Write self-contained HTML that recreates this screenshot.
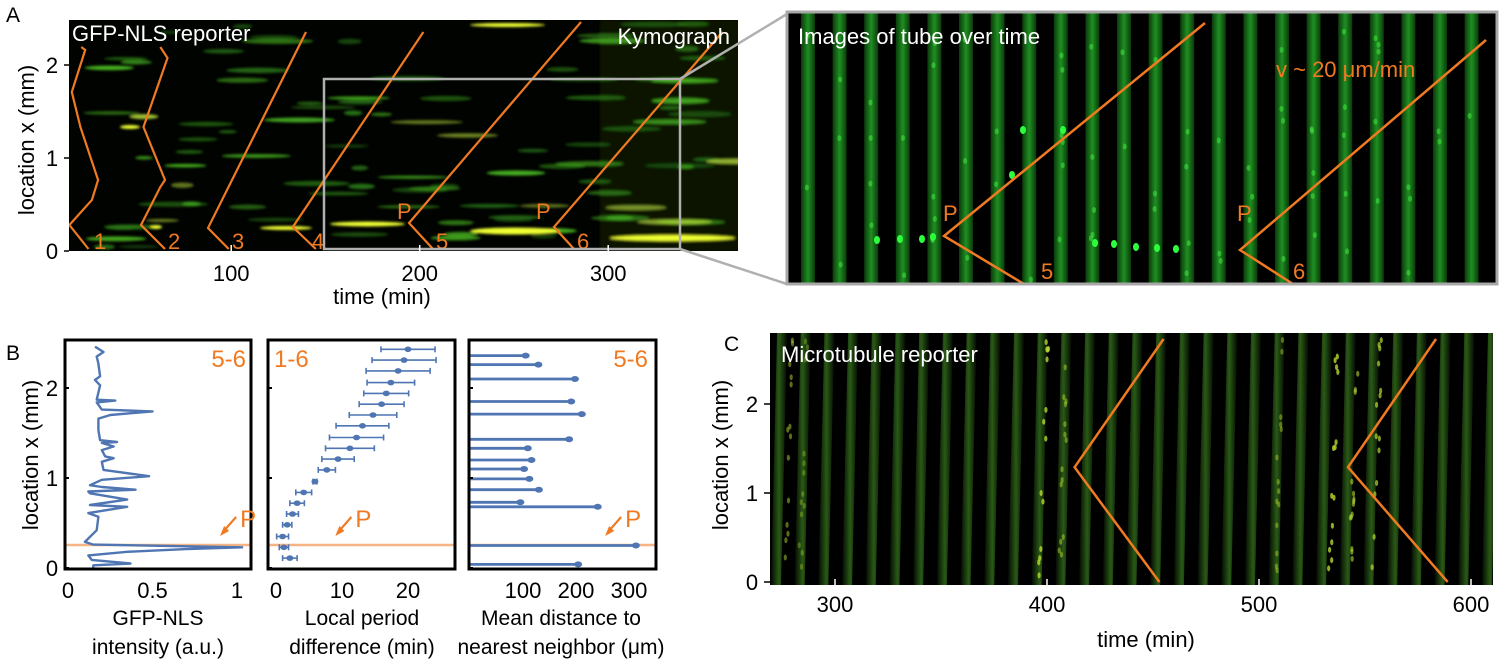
<!DOCTYPE html>
<html><head><meta charset="utf-8"><style>
html,body{margin:0;padding:0;background:#fff;}
svg{display:block;font-family:"Liberation Sans",Arial,sans-serif;}
</style></head><body>
<svg id="fig" width="1500" height="663" viewBox="0 0 1500 663" xmlns="http://www.w3.org/2000/svg">
<defs>
<filter id="blur1" x="-10%" y="-50%" width="120%" height="200%"><feGaussianBlur stdDeviation="1.2"/></filter>
<linearGradient id="stripeA" x1="0" x2="1" y1="0" y2="0">
<stop offset="0" stop-color="#0a3a0a"/><stop offset="0.5" stop-color="#1f8f22"/><stop offset="1" stop-color="#0a3a0a"/></linearGradient>
<linearGradient id="stripeC" x1="0" x2="1" y1="0" y2="0">
<stop offset="0" stop-color="#030a02"/><stop offset="0.5" stop-color="#2a5a16"/><stop offset="1" stop-color="#030a02"/></linearGradient>
<clipPath id="clipK"><rect x="69" y="20" width="669" height="231"/></clipPath>
<clipPath id="clipI"><rect x="787" y="12" width="710" height="272"/></clipPath>
<clipPath id="clipC"><rect x="770" y="333" width="723" height="252"/></clipPath>
</defs>

<!-- Panel A -->
<text x="6" y="22" font-size="21">A</text>
<g id="kymo">
<rect x="69" y="20" width="669" height="231" fill="#010301"/>
<g id="kymoStreaks" clip-path="url(#clipK)" filter="url(#blur1)"></g>
<g clip-path="url(#clipK)" fill="none" stroke="#f07a22" stroke-width="2.2">
<polyline points="88.5,249 69.4,225 91.9,200 98.1,180 80.4,127 71.8,92 85.2,50 81.3,47"/>
<polyline points="165,249 141,225 160.3,187 165,180 143.5,127 167.5,58 160.3,47"/>
<polyline points="228.7,249 208,228 306,32"/>
<polyline points="315.8,249 292.8,227 423.4,32"/>
<polyline points="433,249 409,223 581,22"/>
<polyline points="574,249 554,227 722.5,32"/>
</g>
<g fill="#f07a22" font-size="22">
<text x="94" y="249">1</text><text x="168" y="249">2</text><text x="232" y="249">3</text>
<text x="312" y="249">4</text><text x="436" y="249">5</text><text x="577" y="249">6</text>
<text x="397" y="219">P</text><text x="536" y="219">P</text>
</g>
<text x="72" y="41" font-size="22" fill="#fff">GFP-NLS reporter</text>
<text x="730" y="44" font-size="22" fill="#fff" text-anchor="end">Kymograph</text>
<rect x="324" y="79" width="356" height="170" fill="none" stroke="#b0b0b0" stroke-width="2.5"/>
</g>
<line x1="680" y1="79" x2="787" y2="14" stroke="#b0b0b0" stroke-width="2.5"/>
<line x1="680" y1="249" x2="787" y2="284" stroke="#b0b0b0" stroke-width="2.5"/>
<g id="axA"></g>
<text x="382" y="304" font-size="22" text-anchor="middle">time (min)</text>
<text transform="translate(34,140) rotate(-90)" font-size="22" text-anchor="middle">location x (mm)</text>

<!-- Images panel -->
<g>
<rect x="787" y="12" width="710" height="272" fill="#000"/>
<g id="tubes" clip-path="url(#clipI)"></g>
<g clip-path="url(#clipI)" fill="none" stroke="#f07a22" stroke-width="2.5">
<polyline points="1024,284 944,236 1205,23"/>
<polyline points="1293,284 1240,250 1486,40"/>
</g>
<g fill="#f07a22" font-size="22">
<text x="943" y="221">P</text><text x="1041" y="279">5</text>
<text x="1237" y="221">P</text><text x="1293" y="279">6</text>
<text x="1276" y="77">v ~ 20 μm/min</text>
</g>
<text x="798" y="44" font-size="22" fill="#fff">Images of tube over time</text>
<rect x="787" y="12" width="710" height="272" fill="none" stroke="#a8a8a8" stroke-width="3"/>
</g>

<!-- Panel B -->
<text x="6" y="360" font-size="21">B</text>
<text transform="translate(38,455) rotate(-90)" font-size="22" text-anchor="middle">location x (mm)</text>
<g id="panelB"></g>
<g font-size="21" text-anchor="middle">
<text x="158" y="625">GFP-NLS</text><text x="158" y="654">intensity (a.u.)</text>
<text x="362" y="625">Local period</text><text x="362" y="654">difference (min)</text>
<text x="561" y="625">Mean distance to</text><text x="561" y="654">nearest neighbor (μm)</text>
</g>

<!-- Panel C -->
<text x="724" y="351" font-size="21">C</text>
<g>
<rect x="770" y="333" width="723" height="252" fill="#000"/>
<g id="stripesC" clip-path="url(#clipC)"></g>
<g clip-path="url(#clipC)" fill="none" stroke="#f07a22" stroke-width="2.5" id="linesC"></g>
<text x="781" y="362" font-size="22" fill="#fff">Microtubule reporter</text>
</g>
<g id="axC"></g>
<text x="1146" y="647" font-size="22" text-anchor="middle">time (min)</text>
<text transform="translate(728,455) rotate(-90)" font-size="22" text-anchor="middle">location x (mm)</text>
</svg>
<script>
// ---------- Panel B data ----------
const intensityPos = [2.46,2.40,2.35,2.27,2.13,2.09,2.03,1.87,1.86,1.84,1.76,1.74,1.70,1.66,1.53,1.42,1.40,1.39,1.35,1.31,1.24,1.22,1.18,1.09,1.02,0.98,0.92,0.90,0.87,0.85,0.83,0.76,0.70,0.68,0.61,0.57,0.42,0.29,0.26,0.23,0.21,0.18,0.14,0.09,0.05,0.03,-0.01];
const intensityVal = [0.16,0.21,0.17,0.18,0.19,0.16,0.19,0.17,0.28,0.17,0.20,0.50,0.25,0.18,0.18,0.19,0.29,0.20,0.27,0.20,0.22,0.27,0.20,0.21,0.48,0.20,0.13,0.20,0.40,0.12,0.13,0.35,0.13,0.35,0.12,0.18,0.17,0.10,0.15,1.03,0.70,0.35,0.12,0.14,0.37,0.15,0.15];
const periodPos = [2.43,2.31,2.19,2.06,1.94,1.82,1.70,1.58,1.45,1.33,1.21,1.09,0.96,0.84,0.72,0.60,0.48,0.35,0.23,0.11];
const periodVal = [20.0,19.4,18.5,17.4,16.7,16.0,14.7,13.1,12.2,11.2,9.4,7.7,5.9,4.2,3.2,2.5,1.7,1.0,1.2,2.1];
const periodErr = [4.1,4.85,4.85,3.6,3.4,3.4,3.6,4.0,4.1,3.7,2.45,1.3,0.3,1.2,1.1,0.9,0.7,0.9,0.7,1.1];
const distPos = [2.36,2.26,2.10,1.85,1.71,1.43,1.33,1.20,1.10,0.99,0.87,0.73,0.68,0.25,0.04];
const distVal = [105,129,198,191,211,187,109,116,102,112,130,95,241,313,204];
const pacemakerPos = 0.256;
const yTicksB = [0,1,2];
const xTicks1 = [0,0.5,1];
const xTicks2 = [0,10,20];
const xTicks3 = [100,200,300];
// ---------- Panel A / C axis ticks ----------
const xTicksA = [100,200,300];
const yTicksA = [0,1,2];
const xTicksC = [300,400,500,600];
const yTicksC = [0,1,2];
const waveC1 = [[453,0],[413,1.29],[455,2.73]];
const waveC2 = [[589,0],[542,1.29],[583.5,2.73]];

const NS="http://www.w3.org/2000/svg";
function mk(tag,attrs,parent,txt){const e=document.createElementNS(NS,tag);for(const k in attrs)e.setAttribute(k,attrs[k]);if(txt!==undefined)e.textContent=txt;parent.appendChild(e);return e;}
const blue="#4f76b3", orange="#f07a22";

const yB = v => 568 - 90*v;
const x1 = v => 68 + 169*v;
const x2 = v => 276 + 6.6*v;
const x3 = v => 470 + 0.53*v;
const pB = document.getElementById('panelB');
const boxes=[[65,186],[268,187],[469,187]];
const names=['intensity-plot','period-plot','distance-plot'];
const gs=[];
boxes.forEach((b,i)=>{
  const g=mk('g',{},pB);
  
  
  gs.push(g);
  mk('line',{x1:b[0],x2:b[0]+b[1],y1:yB(pacemakerPos),y2:yB(pacemakerPos),stroke:"#f6b383","stroke-width":2.5},g);
});
let pts=intensityPos.map((p,i)=>x1(intensityVal[i]).toFixed(1)+","+yB(p).toFixed(1)).join(" ");
const ln=mk('polyline',{points:pts,fill:"none",stroke:blue,"stroke-width":2.4,"stroke-linejoin":"round"},gs[0]);


periodPos.forEach((p,i)=>{
  const y=yB(p),l=x2(periodVal[i]-periodErr[i]),r=x2(periodVal[i]+periodErr[i]);
  mk('line',{x1:l,x2:r,y1:y,y2:y,stroke:blue,"stroke-width":1.6},gs[1]);
  mk('line',{x1:l,x2:l,y1:y-3,y2:y+3,stroke:blue,"stroke-width":1.6},gs[1]);
  mk('line',{x1:r,x2:r,y1:y-3,y2:y+3,stroke:blue,"stroke-width":1.6},gs[1]);
  const c=mk('ellipse',{cx:x2(periodVal[i]),cy:y,rx:3.5,ry:2.8,fill:blue},gs[1]);
  
  
});
distPos.forEach((p,i)=>{
  const y=yB(p);
  const s=mk('line',{x1:x3(0),x2:x3(distVal[i]),y1:y,y2:y,stroke:blue,"stroke-width":2.8},gs[2]);
  
  
  mk('ellipse',{cx:x3(distVal[i]),cy:y,rx:4,ry:3,fill:blue},gs[2]);
});
boxes.forEach((b,i)=>{
  mk('rect',{x:b[0],y:340,width:b[1],height:229,fill:"none",stroke:"#000","stroke-width":3},gs[i]);
  yTicksB.forEach(t=>mk('line',{x1:b[0],x2:b[0]+4,y1:yB(t),y2:yB(t),stroke:"#000","stroke-width":2},gs[i]));
});
yTicksB.forEach(t=>mk('text',{x:52,y:yB(t)+8,"font-size":22,"text-anchor":"middle"},pB,String(t)));
xTicks1.forEach(t=>mk('text',{x:x1(t),y:598,"font-size":22,"text-anchor":"middle"},pB,String(t)));
xTicks2.forEach(t=>mk('text',{x:x2(t),y:598,"font-size":22,"text-anchor":"middle"},pB,String(t)));
xTicks3.forEach(t=>mk('text',{x:x3(t),y:598,"font-size":22,"text-anchor":"middle"},pB,String(t)));
[[246,"5-6","end"],[274,"1-6","start"],[648,"5-6","end"]].forEach(a=>mk('text',{x:a[0],y:367,"font-size":24,fill:orange,"text-anchor":a[2]},pB,a[1]));
[[x1(0.9),"P"],[x2(9),"P"],[x3(255),"P"]].forEach(a=>{
  const x=a[0], y=yB(pacemakerPos);
  mk('line',{x1:x+2,y1:y-12,x2:x+16,y2:y-28,stroke:orange,"stroke-width":2.2},pB);
  mk('polygon',{points:`${x},${y-9} ${x+9},${y-14} ${x+4},${y-19}`,fill:orange},pB);
  mk('text',{x:x+20,y:y-18,"font-size":24,fill:orange},pB,a[1]);
});

const xA = t => 42.7 + 1.885*t, yA = v => 251 - 93*v;
const axA=document.getElementById('axA');
xTicksA.forEach(t=>{mk('line',{x1:xA(t),x2:xA(t),y1:251,y2:245,stroke:"#fff","stroke-width":1.5},axA);mk('text',{x:xA(t),y:281,"font-size":22,"text-anchor":"middle"},axA,String(t));});
yTicksA.forEach(t=>{mk('line',{x1:64,x2:69,y1:yA(t),y2:yA(t),stroke:"#000","stroke-width":1.5},axA);mk('text',{x:52,y:yA(t)+8,"font-size":22,"text-anchor":"middle"},axA,String(t));});

// Kymograph texture (decorative, seeded)
let seed=7;function rnd(){seed=(seed*16807)%2147483647;return seed/2147483647;}
const ks=document.getElementById('kymoStreaks');
mk('rect',{x:600,y:20,width:140,height:231,fill:"#0a1a07",opacity:0.8},ks);
for(let i=0;i<95;i++){
  const y=24+rnd()*224, x=69+rnd()*660, w=15+rnd()*60, b=rnd();
  const col=b>0.92?"#c8f040":(b>0.55?"#4cbf22":"#2a7a16");
  mk('ellipse',{cx:x+w/2,cy:y,rx:w/2,ry:1.6+rnd()*1.2,fill:col,opacity:0.45+0.45*rnd()},ks);
}
[[330,405,224,4],[470,560,231,6],[610,735,238,5],[260,312,228,3],[470,545,25,3],[120,140,127,3],[150,162,227,3]].forEach(s=>mk('ellipse',{cx:(s[0]+s[1])/2,cy:s[2],rx:(s[1]-s[0])/2,ry:s[3]/2+0.5,fill:"#eeff30"},ks));

const tubes=document.getElementById('tubes');
for(let i=0;i<22;i++){
  const cx=808+i*31.6;
  mk('rect',{x:cx-7,y:12,width:14,height:272,fill:"url(#stripeA)"},tubes);
  for(let k=0;k<6;k++){ if(rnd()<0.6) mk('ellipse',{cx:cx+(rnd()-0.5)*4,cy:30+rnd()*250,rx:2,ry:3,fill:"#3fe03f",opacity:0.6},tubes);}
}
[[877,240],[900,239],[922,239],[933,237],[1095,243],[1114,244],[1136,247],[1157,248],[1176,249],[1023,130],[1063,130],[1012,175]].forEach(d=>mk('ellipse',{cx:d[0],cy:d[1],rx:3,ry:4,fill:"#2cff3c"},tubes));

const xC = t => 199 + 2.12*t, yC = v => 582 - 89*v;
const sc=document.getElementById('stripesC');
for(let i=0;i<31;i++){
  const x=776+i*23.7;
  mk('polygon',{points:`${x-5},585 ${x+5},585 ${x+11},333 ${x+1},333`,fill:"url(#stripeC)"},sc);
}
[[785,0.5],[800,0.35],[1040,0.8],[1060,0.5],[1330,0.8],[1350,0.6],[1373,0.7],[1275,0.45]].forEach(s=>{
  for(let k=0;k<14;k++){const y=340+rnd()*240;mk('ellipse',{cx:s[0]+(585-y)*0.03+(rnd()-0.5)*4,cy:y,rx:1.6,ry:3,fill:"#b8d830",opacity:s[1]},sc);}
});
const lc=document.getElementById('linesC');
[waveC1,waveC2].forEach(w=>mk('polyline',{points:w.map(p=>xC(p[0]).toFixed(1)+","+yC(p[1]).toFixed(1)).join(" ")},lc));
const axC=document.getElementById('axC');
xTicksC.forEach(t=>{mk('line',{x1:xC(t),x2:xC(t),y1:585,y2:579,stroke:"#fff","stroke-width":1.5},axC);mk('text',{x:xC(t),y:612,"font-size":22,"text-anchor":"middle"},axC,String(t));});
yTicksC.forEach(t=>{mk('line',{x1:764,x2:770,y1:yC(t),y2:yC(t),stroke:"#000","stroke-width":1.5},axC);mk('text',{x:752,y:yC(t)+8,"font-size":22,"text-anchor":"middle"},axC,String(t));});
</script>
</body></html>
